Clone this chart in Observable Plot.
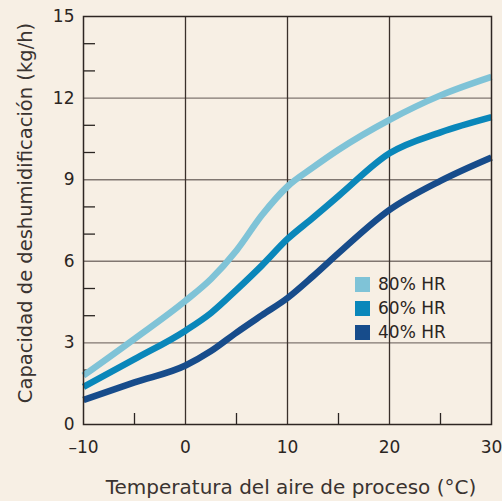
<!DOCTYPE html>
<html>
<head>
<meta charset="utf-8">
<script src="https://cdn.jsdelivr.net/npm/d3@7"></script>
<script src="https://cdn.jsdelivr.net/npm/@observablehq/plot@0.6"></script>
<style>
  html, body { margin: 0; padding: 0; background: #f7efe4; }
  #wrap { position: relative; width: 502px; height: 501px; font-family: "DejaVu Sans", sans-serif; color: #2b2522; }
  .legend { position: absolute; left: 355px; top: 272px; font-size: 17px; line-height: 24px; }
  .legend div { display: flex; align-items: center; height: 24px; }
  .legend span.sw { width: 15px; height: 15px; display: inline-block; margin-right: 8px; }
</style>
</head>
<body>
<div id="wrap"></div>
<script>
const temps = [-10, -5, 0, 2.5, 5, 7.5, 10, 12.5, 15, 20, 25, 30];
const hr80 = [1.8, 3.15, 4.55, 5.35, 6.4, 7.7, 8.75, 9.45, 10.1, 11.2, 12.1, 12.78];
const hr60 = [1.38, 2.4, 3.45, 4.1, 4.95, 5.85, 6.82, 7.6, 8.4, 9.97, 10.74, 11.3];
const hr40 = [0.9, 1.55, 2.17, 2.7, 3.38, 4.02, 4.65, 5.45, 6.3, 7.89, 8.96, 9.82];
const seriesNames = ["80% HR", "60% HR", "40% HR"];
const seriesColors = ["#7fc3d7", "#0a87ba", "#174c8b"];
const xTicks = [-10, 0, 10, 20, 30];
const xMinor = [-5, 5, 15, 25];
const yTicks = [0, 3, 6, 9, 12, 15];
const yMinor = [1, 2, 4, 5, 7, 8, 10, 11, 13, 14];
const xTitle = "Temperatura del aire de proceso (°C)";
const yTitle = "Capacidad de deshumidificación (kg/h)";

const data = [];
[hr80, hr60, hr40].forEach((vals, i) => {
  temps.forEach((t, j) => data.push({series: seriesNames[i], t, v: vals[j]}));
});

const W = 502, H = 501;
const mL = 83, mR = 11, mT = 16, mB = 77;
const plotW = W - mL - mR, plotH = H - mT - mB;

const chart = Plot.plot({
  width: W, height: H,
  marginLeft: mL, marginRight: mR, marginTop: mT, marginBottom: mB,
  style: {background: "#f7efe4", fontFamily: "DejaVu Sans, sans-serif", fontSize: "17px", color: "#2b2522"},
  x: {domain: [-10, 30]},
  y: {domain: [0, 15]},
  color: {domain: seriesNames, range: seriesColors},
  marks: [
    Plot.gridY(yTicks.filter(d => d > 0 && d < 15), {stroke: "#807670", strokeOpacity: 1, strokeWidth: 1.4}),
    Plot.gridX(xTicks.filter(d => d > -10 && d < 30), {stroke: "#3a302b", strokeOpacity: 1, strokeWidth: 1.3}),
    Plot.tickY(yMinor, {y: d => d, stroke: "#2b2522", strokeWidth: 1.3, insetRight: plotW - 12}),
    Plot.tickX(xMinor, {x: d => d, stroke: "#2b2522", strokeWidth: 1.3, insetTop: plotH - 11}),
    Plot.line(data, {x: "t", y: "v", z: "series", stroke: "series", strokeWidth: 6.5, curve: "monotone-x", strokeLinejoin: "round", strokeLinecap: "butt"}),
    Plot.frame({stroke: "#2e2622", strokeWidth: 1.5}),
    Plot.axisY({ticks: yTicks, tickSize: 0, tickPadding: 9, label: null, fontSize: 17, fill: "#2b2522"}),
    Plot.axisX({ticks: xTicks, tickSize: 0, tickPadding: 16, label: null, fontSize: 17, fill: "#2b2522", tickFormat: d => String(d).replace("-", "\u2013")})
  ]
});

const svg = d3.select(chart);
svg.append("text")
  .attr("x", 291).attr("y", 494)
  .attr("text-anchor", "middle")
  .attr("font-size", 20).attr("fill", "#3a3330")
  .text(xTitle);
svg.append("text")
  .attr("transform", "translate(32,213) rotate(-90)")
  .attr("text-anchor", "middle")
  .attr("font-size", 19.5).attr("fill", "#3a3330")
  .text(yTitle);

const wrap = document.getElementById("wrap");
wrap.appendChild(chart);
const legend = document.createElement("div");
legend.className = "legend";
seriesNames.forEach((name, i) => {
  const row = document.createElement("div");
  const sw = document.createElement("span");
  sw.className = "sw";
  sw.style.background = seriesColors[i];
  row.appendChild(sw);
  row.appendChild(document.createTextNode(name));
  legend.appendChild(row);
});
wrap.appendChild(legend);
</script>
</body>
</html>
